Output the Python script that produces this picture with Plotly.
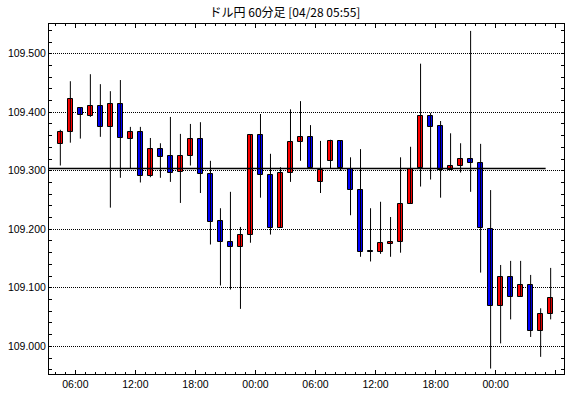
import pandas as pd
import plotly.graph_objects as go

# ---- data (USD/JPY, 60-minute candles) ----
start_time = "2021-04-26 04:00"
opens = [109.345, 109.366, 109.408, 109.394, 109.410, 109.374, 109.414, 109.355, 109.367, 109.291,
         109.337, 109.325, 109.298, 109.326, 109.355, 109.294, 109.214, 109.179, 109.169, 109.191,
         109.361, 109.292, 109.203, 109.296, 109.349, 109.357, 109.280, 109.316, 109.351, 109.303,
         109.267, 109.163, 109.161, 109.175, 109.179, 109.244, 109.304, 109.393, 109.376, 109.302,
         109.309, 109.320, 109.313, 109.201, 109.069, 109.118, 109.085, 109.104, 109.026, 109.055]
closes = [109.366, 109.422, 109.395, 109.410, 109.374, 109.414, 109.356, 109.367, 109.291, 109.337,
          109.324, 109.296, 109.326, 109.355, 109.294, 109.213, 109.179, 109.169, 109.191, 109.361,
          109.292, 109.203, 109.296, 109.349, 109.357, 109.304, 109.302, 109.351, 109.304, 109.267,
          109.162, 109.161, 109.176, 109.179, 109.244, 109.303, 109.393, 109.375, 109.302, 109.309,
          109.320, 109.313, 109.203, 109.069, 109.118, 109.085, 109.104, 109.026, 109.056, 109.082]
highs = [109.370, 109.453, 109.408, 109.465, 109.448, 109.436, 109.455, 109.375, 109.375, 109.356,
         109.347, 109.392, 109.363, 109.380, 109.383, 109.317, 109.236, 109.264, 109.204, 109.361,
         109.397, 109.329, 109.306, 109.405, 109.419, 109.378, 109.351, 109.353, 109.351, 109.323,
         109.337, 109.236, 109.247, 109.221, 109.323, 109.341, 109.483, 109.399, 109.385, 109.364,
         109.347, 109.539, 109.346, 109.267, 109.139, 109.146, 109.146, 109.122, 109.065, 109.134]
lows = [109.309, 109.348, 109.355, 109.392, 109.358, 109.237, 109.288, 109.304, 109.280, 109.289,
        109.288, 109.281, 109.245, 109.309, 109.262, 109.174, 109.104, 109.097, 109.064, 109.177,
        109.254, 109.191, 109.203, 109.281, 109.317, 109.304, 109.262, 109.304, 109.300, 109.224,
        109.153, 109.145, 109.158, 109.153, 109.160, 109.244, 109.273, 109.285, 109.254, 109.302,
        109.297, 109.264, 109.126, 108.962, 109.005, 109.046, 109.085, 109.016, 108.982, 109.046]
ref_price = 109.304
title_text = "ドル円 60分足 [04/28 05:55]"

# ---- derived ----
times = pd.date_range(start_time, periods=len(opens), freq="h")
centers = times + pd.Timedelta(minutes=30)

wx, wy = [], []
for t, lo, hi in zip(centers, lows, highs):
    wx += [t, t, None]
    wy += [lo, hi, None]

bases = [min(o, c) for o, c in zip(opens, closes)]
heights = [abs(c - o) for o, c in zip(opens, closes)]
colors = ["#ff0000" if c > o else "#0000ff" for o, c in zip(opens, closes)]

fig = go.Figure()
fig.add_trace(go.Scatter(x=wx, y=wy, mode="lines", line=dict(color="black", width=1),
                         hoverinfo="skip", showlegend=False))
fig.add_trace(go.Bar(x=centers, y=heights, base=bases, width=0.5 * 3600000,
                     marker=dict(color=colors, line=dict(color="black", width=1)),
                     showlegend=False))

x_left = times[0] - pd.Timedelta(minutes=38)
x_right = times[-1] + pd.Timedelta(minutes=110)
fig.add_shape(type="line", xref="x", yref="y", x0=x_left, x1=times[-1],
              y0=ref_price, y1=ref_price, line=dict(color="black", width=1.5))

tick_font = dict(family="Liberation Sans, Arial, sans-serif", size=10.5, color="black")
fig.update_layout(
    width=570, height=398,
    margin=dict(l=49, r=6, t=24, b=24),
    paper_bgcolor="white", plot_bgcolor="white",
    bargap=0,
    title=dict(text=title_text, x=0.5, xref="container", xanchor="center",
               y=1 - 13 / 398, yref="container", yanchor="middle",
               font=dict(family="Noto Sans CJK JP", size=12, color="black")),
    showlegend=False,
)
fig.update_xaxes(
    type="date", range=[x_left, x_right],
    tick0="2021-04-26 00:00", dtick=6 * 3600000, tickformat="%H:%M",
    ticklabeloverflow="hide past domain",
    ticks="inside", ticklen=4, tickcolor="black", tickwidth=1,
    minor=dict(dtick=3600000, ticks="inside", ticklen=2, tickcolor="black", showgrid=False),
    showgrid=False, zeroline=False,
    showline=True, linecolor="black", linewidth=1, mirror="allticks",
    tickfont=tick_font,
)
fig.update_yaxes(
    range=[108.9527, 109.5508], dtick=0.1, tick0=109.0, tickformat=".3f",
    ticks="inside", ticklen=3, tickcolor="black", tickwidth=1,
    minor=dict(dtick=0.02, ticks="inside", ticklen=3, tickcolor="black", showgrid=False),
    showgrid=True, gridcolor="black", gridwidth=1, griddash="1px,1px",
    zeroline=False,
    showline=True, linecolor="black", linewidth=1, mirror="allticks",
    tickfont=tick_font,
)

fig.write_html("out.html", config={"displayModeBar": False},
               post_script="document.body.style.margin='0';")
